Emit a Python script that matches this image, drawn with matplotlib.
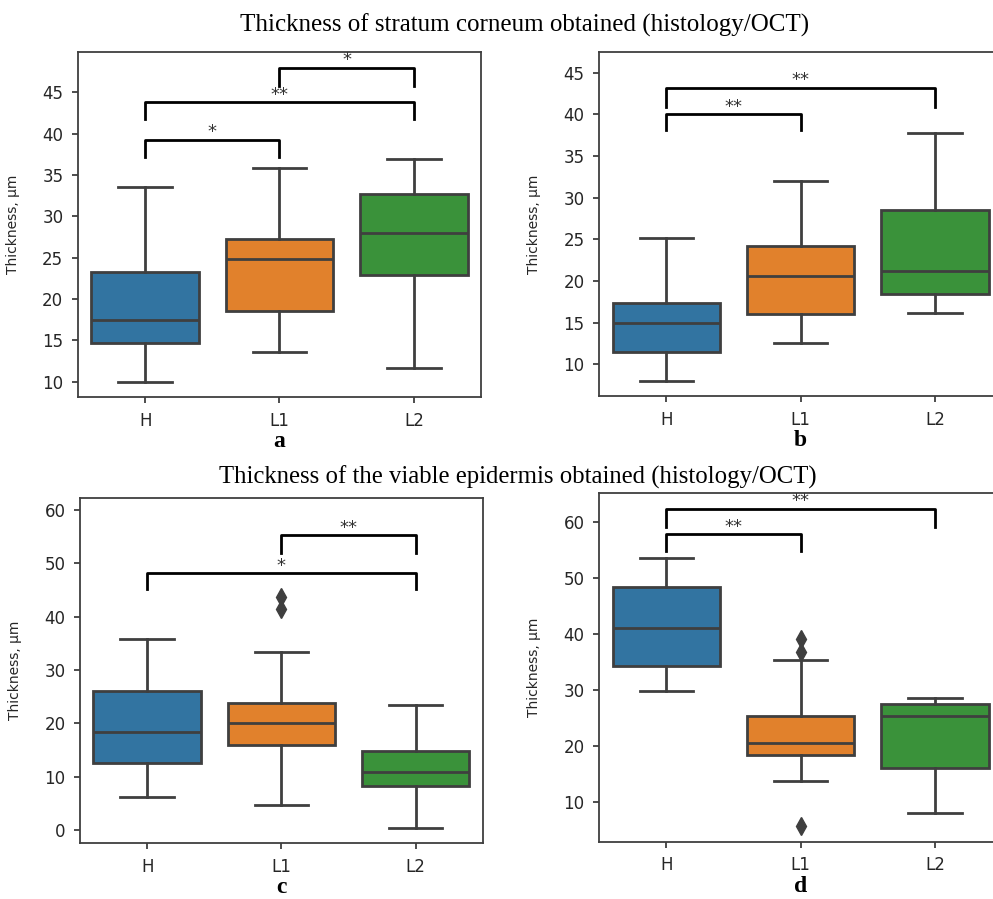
import matplotlib.pyplot as plt

groups = ['H', 'L1', 'L2']
colors = ['#3274a1', '#e1812c', '#3a923a']

# box statistics: low whisker, q1, median, q3, high whisker
a_low = [10.0, 13.55, 11.6]
a_q1 = [14.7, 18.6, 22.9]
a_med = [17.5, 24.9, 28.0]
a_q3 = [23.3, 27.3, 32.7]
a_high = [33.5, 35.8, 36.9]
a_fliers = [[], [], []]

b_low = [8.0, 12.6, 16.1]
b_q1 = [11.5, 16.0, 18.4]
b_med = [14.9, 20.6, 21.2]
b_q3 = [17.4, 24.2, 28.5]
b_high = [25.1, 32.0, 37.7]
b_fliers = [[], [], []]

c_low = [6.25, 4.75, 0.45]
c_q1 = [12.6, 16.0, 8.25]
c_med = [18.3, 20.05, 10.8]
c_q3 = [26.05, 23.75, 14.75]
c_high = [35.8, 33.45, 23.35]
c_fliers = [[], [43.7, 41.5], []]

d_low = [29.7, 13.75, 8.0]
d_q1 = [34.3, 18.3, 15.95]
d_med = [41.1, 20.55, 25.25]
d_q3 = [48.3, 25.35, 27.45]
d_high = [53.6, 35.4, 28.55]
d_fliers = [[], [39.0, 36.7, 5.7], []]

# significance brackets: (group 1, group 2, bar level, leg end, label)
a_sig = [(0, 1, 39.3, 37.2, '*'), (0, 2, 43.8, 41.8, '**'), (1, 2, 48.0, 45.8, '*')]
b_sig = [(0, 1, 40.0, 38.1, '**'), (0, 2, 43.2, 40.9, '**')]
c_sig = [(0, 2, 48.1, 45.1, '*'), (1, 2, 55.25, 52.0, '**')]
d_sig = [(0, 1, 57.8, 54.8, '**'), (0, 2, 62.3, 59.1, '**')]

line_col = '#3f3f3f'


def draw_panel(ax, low, q1, med, q3, high, fliers, sig, ylim, yticks, letter):
    stats = []
    for i in range(len(groups)):
        stats.append({'whislo': low[i], 'q1': q1[i], 'med': med[i], 'q3': q3[i],
                      'whishi': high[i], 'fliers': fliers[i]})
    lw = 2.0
    bp = ax.bxp(stats, positions=range(len(groups)), widths=0.8, patch_artist=True,
                boxprops=dict(edgecolor=line_col, linewidth=lw),
                medianprops=dict(color=line_col, linewidth=lw),
                whiskerprops=dict(color=line_col, linewidth=lw),
                capprops=dict(color=line_col, linewidth=lw),
                flierprops=dict(marker='d', markerfacecolor=line_col,
                                markeredgecolor=line_col, markersize=9))
    for patch, c in zip(bp['boxes'], colors):
        patch.set_facecolor(c)

    for g1, g2, y, y0, lab in sig:
        ax.plot([g1, g1, g2, g2], [y0, y, y, y0], color='black', lw=2.0)
        ax.annotate(lab, ((g1 + g2) / 2, y), xytext=(0, -1), textcoords='offset points',
                    ha='center', va='bottom', fontsize=13, color='#333333',
                    family='DejaVu Sans')

    ax.set_xlim(-0.5, 2.5)
    ax.set_ylim(*ylim)
    ax.set_yticks(yticks)
    ax.set_xticks(range(len(groups)))
    ax.set_xticklabels(groups)
    ax.tick_params(labelsize=12, length=4, width=1.3, pad=6.5, color=line_col,
                   labelcolor='#262626')
    for s in ax.spines.values():
        s.set_linewidth(1.3)
        s.set_color(line_col)
    ax.set_ylabel('Thickness, µm', fontsize=10, color='#262626')
    ax.yaxis.set_label_coords(-0.144, 0.5)
    ax.text(0.5, -0.128, letter, transform=ax.transAxes, ha='center', va='center',
            fontsize=17, fontweight='bold', family='Liberation Serif')


fig = plt.figure(figsize=(9.93, 8.99), dpi=100)
ax_a = fig.add_axes([0.0785, 0.5584, 0.4059, 0.3838])
ax_b = fig.add_axes([0.6035, 0.5595, 0.4055, 0.3830])
ax_c = fig.add_axes([0.0806, 0.0620, 0.4055, 0.3837])
ax_d = fig.add_axes([0.6035, 0.0637, 0.4055, 0.3882])

draw_panel(ax_a, a_low, a_q1, a_med, a_q3, a_high, a_fliers, a_sig,
           (8.15, 49.9), range(10, 50, 5), 'a')
draw_panel(ax_b, b_low, b_q1, b_med, b_q3, b_high, b_fliers, b_sig,
           (6.2, 47.5), range(10, 50, 5), 'b')
draw_panel(ax_c, c_low, c_q1, c_med, c_q3, c_high, c_fliers, c_sig,
           (-2.5, 62.2), range(0, 70, 10), 'c')
draw_panel(ax_d, d_low, d_q1, d_med, d_q3, d_high, d_fliers, d_sig,
           (2.86, 65.2), range(10, 70, 10), 'd')

fig.text(0.528, 1 - 25 / 899, 'Thickness of stratum corneum obtained (histology/OCT)',
         ha='center', va='center', fontsize=18, family='Liberation Serif')
fig.text(0.521, 1 - 477 / 899, 'Thickness of the viable epidermis obtained (histology/OCT)',
         ha='center', va='center', fontsize=17.8, family='Liberation Serif')

fig.savefig('out.png', dpi=100)
